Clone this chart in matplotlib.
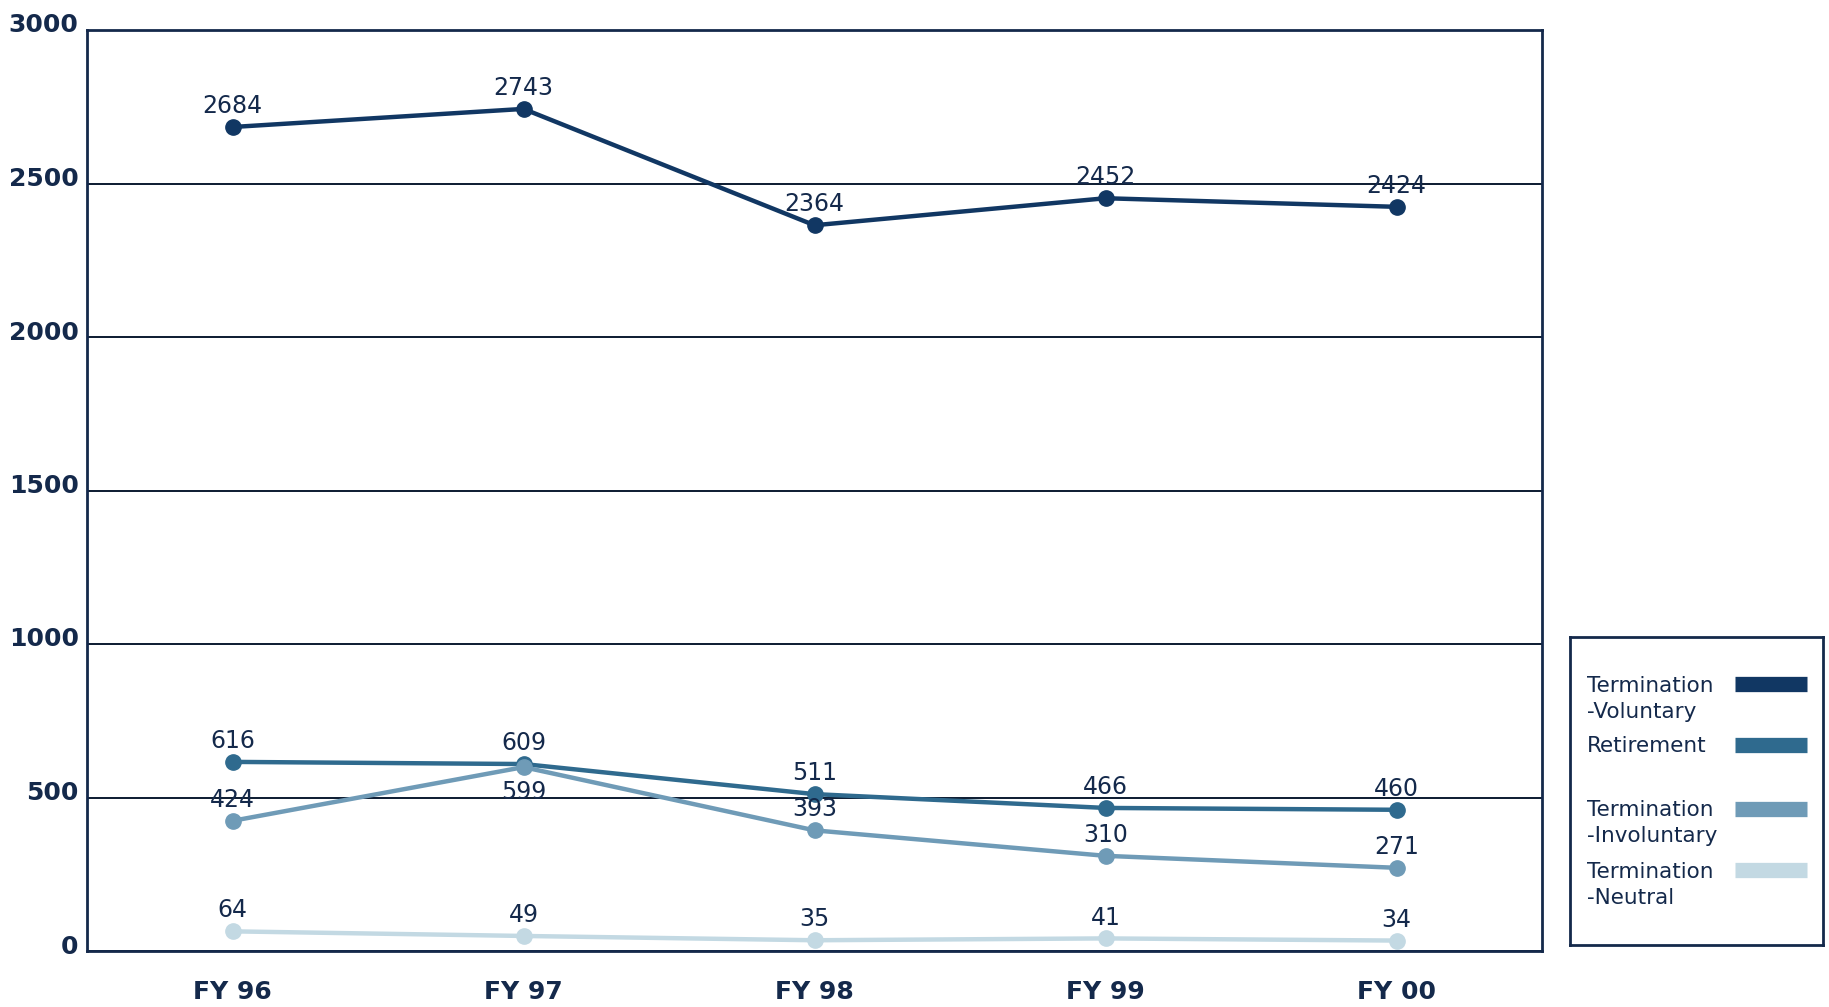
import matplotlib.pyplot as plt
import matplotlib.transforms as mtransforms

# data
years = ['FY 96', 'FY 97', 'FY 98', 'FY 99', 'FY 00']
voluntary = [2684, 2743, 2364, 2452, 2424]
retirement = [616, 609, 511, 466, 460]
involuntary = [424, 599, 393, 310, 271]
neutral = [64, 49, 35, 41, 34]

series_names = ['Termination\n-Voluntary', 'Retirement',
                'Termination\n-Involuntary', 'Termination\n-Neutral']
series_colors = ['#113763', '#2f6a8e', '#6f9bb7', '#c3d9e3']
yticks = [0, 500, 1000, 1500, 2000, 2500, 3000]

navy = '#14294b'
plt.rcParams['font.family'] = ['DejaVu Sans']

fig = plt.figure(figsize=(18.29, 10.07), dpi=100)
W, H = 1829, 1007
ax = fig.add_axes([87 / W, 1 - 951 / H, (1542 - 87) / W, (951 - 30) / H])

x = list(range(len(years)))
all_series = [voluntary, retirement, involuntary, neutral]
for vals, col in zip(all_series, series_colors):
    ax.plot(x, vals, '-o', color=col, lw=3.2, markersize=11, zorder=3)

# value labels (the 599 one sits under its point)
for vals, col in zip(all_series, series_colors):
    for xi, v in zip(x, vals):
        if vals is involuntary and xi == 1:
            ax.annotate(str(v), (xi, v), xytext=(0, -9), textcoords='offset points',
                        ha='center', va='top', fontsize=17, color=navy, zorder=4)
        else:
            ax.annotate(str(v), (xi, v), xytext=(0, 10), textcoords='offset points',
                        ha='center', va='baseline', fontsize=17, color=navy, zorder=4)

ax.set_xlim(-0.5, 4.5)
ax.set_ylim(0, 3000)
ax.set_yticks(yticks)
ax.set_xticks(x)
ax.set_xticklabels(years)
ax.grid(axis='y', color='#0b1a30', lw=1.4)
ax.set_axisbelow(True)
for s in ax.spines.values():
    s.set_color(navy)
    s.set_linewidth(2)
ax.tick_params(length=0)
ax.tick_params(axis='y', pad=6, labelsize=18, labelcolor=navy)
ax.tick_params(axis='x', pad=21, labelsize=18, labelcolor=navy)
for lab in ax.get_yticklabels() + ax.get_xticklabels():
    lab.set_fontweight('bold')
# y labels sit a bit above their gridline in the original
up = mtransforms.ScaledTranslation(0, 7 / 100, fig.dpi_scale_trans)
for lab in ax.get_yticklabels():
    lab.set_transform(lab.get_transform() + up)

# hand-made legend box
lx0, lx1, ly0, ly1 = 1570, 1823, 637, 945
lax = fig.add_axes([lx0 / W, 1 - ly1 / H, (lx1 - lx0) / W, (ly1 - ly0) / H])
lax.set_xlim(lx0, lx1)
lax.set_ylim(ly1, ly0)
lax.set_xticks([])
lax.set_yticks([])
for s in lax.spines.values():
    s.set_color(navy)
    s.set_linewidth(2)
row_y = [684, 745, 809, 870]
for name, col, yy in zip(series_names, series_colors, row_y):
    for k, line in enumerate(name.split('\n')):
        lax.text(1587, yy + 7.5 + 26 * k, line, ha='left', va='baseline',
                 fontsize=15.5, color=navy)
    lax.plot([1735, 1807], [yy, yy], color=col, lw=11, solid_capstyle='butt')

fig.savefig('out.png', dpi=100)
